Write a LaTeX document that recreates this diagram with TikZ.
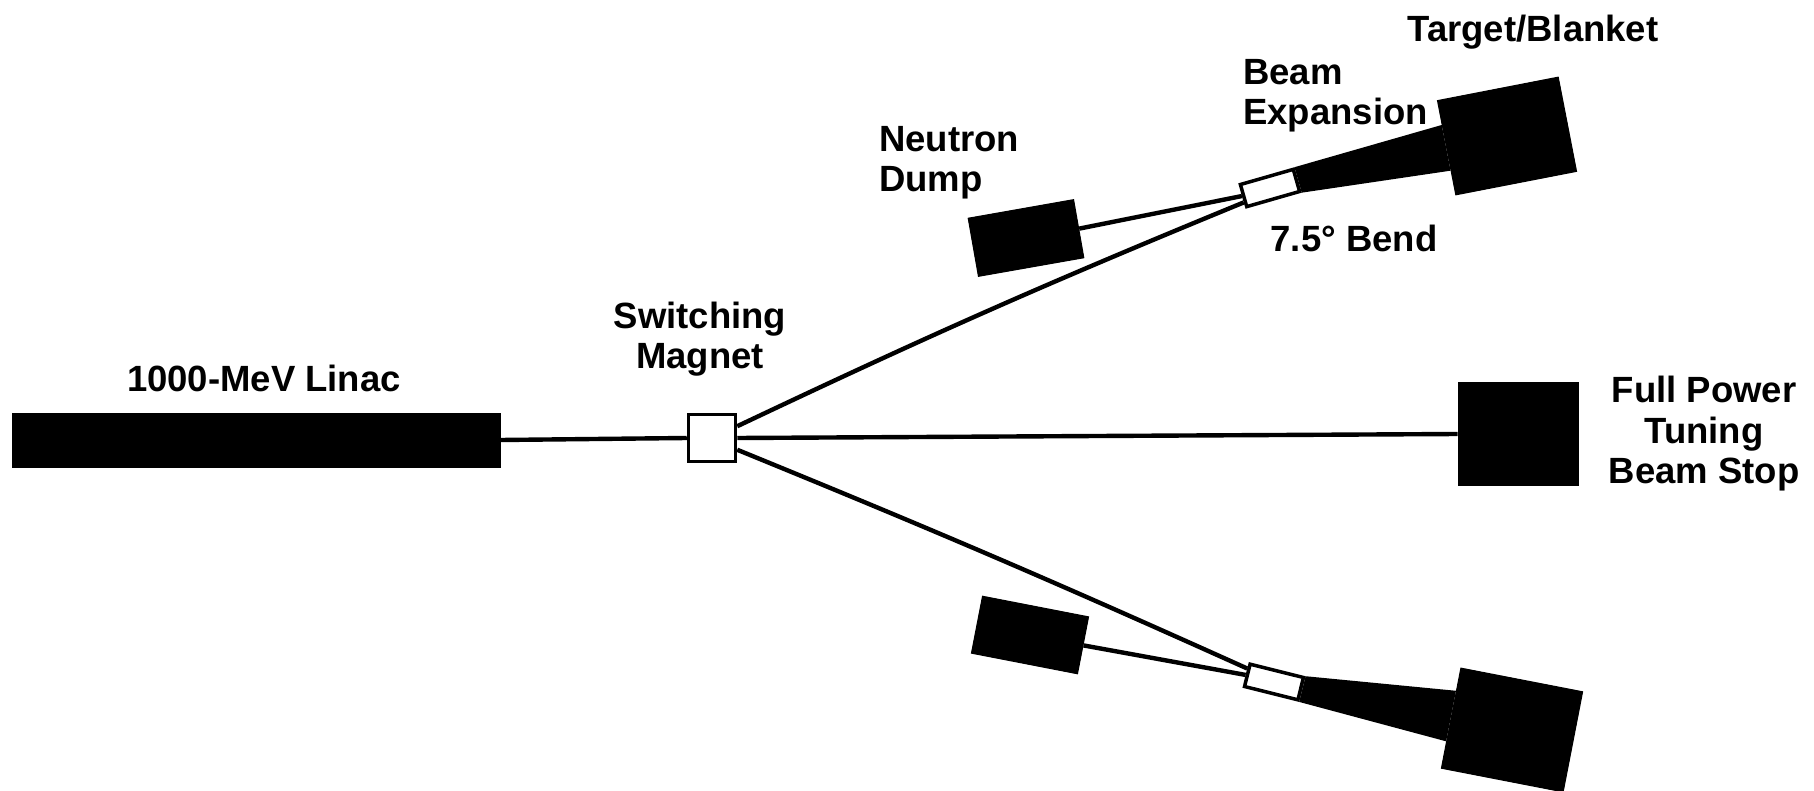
\documentclass[tikz,border=0pt]{standalone}
\usepackage{fontspec}
\setmainfont{Liberation Sans}
\usetikzlibrary{positioning,calc}

\begin{document}
\begin{tikzpicture}[
  x=1pt, y=-1pt,
  lbl/.style={font=\fontsize{36.5}{40.5}\selectfont\bfseries, inner sep=0pt},
  solid block/.style={fill=black, draw=black, line width=1pt, inner sep=0pt},
  magbox/.style={draw=black, fill=white, line width=3.5pt, inner sep=0pt},
  beam/.style={line width=4.4pt, draw=black},
  fan/.style={fill=black}
]
\useasboundingbox (0,0) rectangle (1814,791);
% linac, switching magnet, tuning stop
\node[solid block, minimum width=488pt, minimum height=54pt] (linac) at (256,440) {};
\node[magbox, minimum size=47pt] (switch) at (712,438) {};
\node[solid block, minimum width=120pt, minimum height=103pt] (stop) at (1518,434) {};
% upper line
\node[solid block, rotate=10, minimum width=107pt, minimum height=59pt] (dumpA) at (1026,238) {};
\node[magbox, rotate=16, minimum width=55pt, minimum height=23pt] (bendA) at (1270,188) {};
\node[solid block, rotate=11, minimum width=123pt, minimum height=96pt] (tgtA) at (1507,136) {};
% lower line
\node[solid block, rotate=-11, minimum width=108pt, minimum height=58pt] (dumpB) at (1030,635) {};
\node[magbox, rotate=-14, minimum width=55pt, minimum height=23pt] (bendB) at (1274,682) {};
\node[solid block, rotate=-11, minimum width=124pt, minimum height=102pt] (tgtB) at (1512,730) {};

\draw[beam] (linac.east) -- (switch.west);
\draw[beam] (switch.east) -- (stop.west);
\draw[beam] (switch.25) to[bend left=1.5] ($(bendA.west)!0.5!(bendA.south west)$);
\draw[beam] (switch.-25) to[bend left=1] ($(bendB.west)!0.5!(bendB.north west)$);
\draw[beam] (dumpA.east) -- (bendA.west);
\draw[beam] (dumpB.east) -- (bendB.west);

% beam expansion
\fill[fan] (bendA.north east) -- ($(tgtA.north west)!0.26!(tgtA.south west)$)
  -- ($(tgtA.north west)!0.74!(tgtA.south west)$) -- (bendA.south east) -- cycle;
\fill[fan] (bendB.north east) -- ($(tgtB.north west)!0.23!(tgtB.south west)$)
  -- ($(tgtB.north west)!0.73!(tgtB.south west)$) -- (bendB.south east) -- cycle;

% labels
\node[lbl, above=20pt of linac, xshift=8pt] (linaclbl) {1000-MeV Linac};
\node[lbl, align=center, above=36pt of switch, xshift=-12pt] (switchlbl) {Switching\\Magnet};
\node[lbl, align=center, right=30pt of stop] (stoplbl) {Full Power\\Tuning\\Beam Stop};
\node[lbl, anchor=base] (tgtlbl) at (1533,42) {Target/Blanket};
\node[lbl, align=left, anchor=north west] (explbl) at (1243,59) {Beam\\Expansion};
\node[lbl, align=left, anchor=north west] (dumplbl) at (879,126) {Neutron\\Dump};
\node[lbl, anchor=base] (bendlbl) at (1354,252) {7.5° Bend};
\end{tikzpicture}
\end{document}
